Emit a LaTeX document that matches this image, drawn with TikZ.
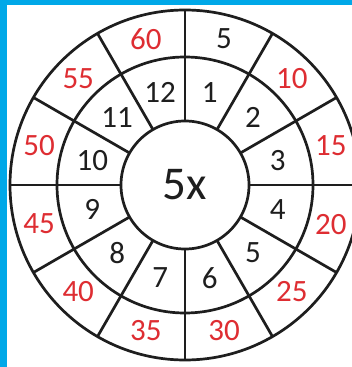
\documentclass[tikz,border=0pt]{standalone}
\usepackage{fontspec}
\setmainfont{Carlito}
\usetikzlibrary{positioning}
\definecolor{azul}{RGB}{0,168,232}
\definecolor{vermelho}{RGB}{222,45,50}
\definecolor{cinza}{RGB}{30,30,30}
\tikzset{every picture/.style={line width=0.75pt}}

\begin{document}
\begin{tikzpicture}[x=1pt, y=1pt, font=\fontsize{31}{31}\selectfont]
        % área da figura (o anel externo é cortado à direita)
        \useasboundingbox (-185,-182) rectangle (167,185);
        \clip (-185,-182) rectangle (167,185);
        \fill[white] (-185,-182) rectangle (167,185);
        % moldura azul
        \fill[azul] (-185,-182) rectangle (-178,185);
        \fill[azul] (-185,180) rectangle (167,185);
        % anéis e divisões
        \draw[line width=2.7pt, cinza] (0,0) circle (175) (0,0) circle (128) (0,0) circle (64);
        \foreach \a in {0,30,...,330} { \draw[line width=2.7pt, cinza] (\a:64) -- (\a:175); }
        % fatores (dentro) e produtos (fora); o primeiro produto é preto
        \foreach \n in {1,...,12} {
            \node[text=cinza] (in\n) at ({105-30*\n}:96) {\n};
            \ifnum\n=1 \def\cor{cinza}\else \def\cor{vermelho}\fi
            \node[text=\cor] (out\n) at ({105-30*\n}:151) {\the\numexpr5*\n\relax};
        }
        \node[text=cinza, font=\fontsize{47}{47}\selectfont] (centro) at (0,0) {5x};
    \end{tikzpicture}
\end{document}
